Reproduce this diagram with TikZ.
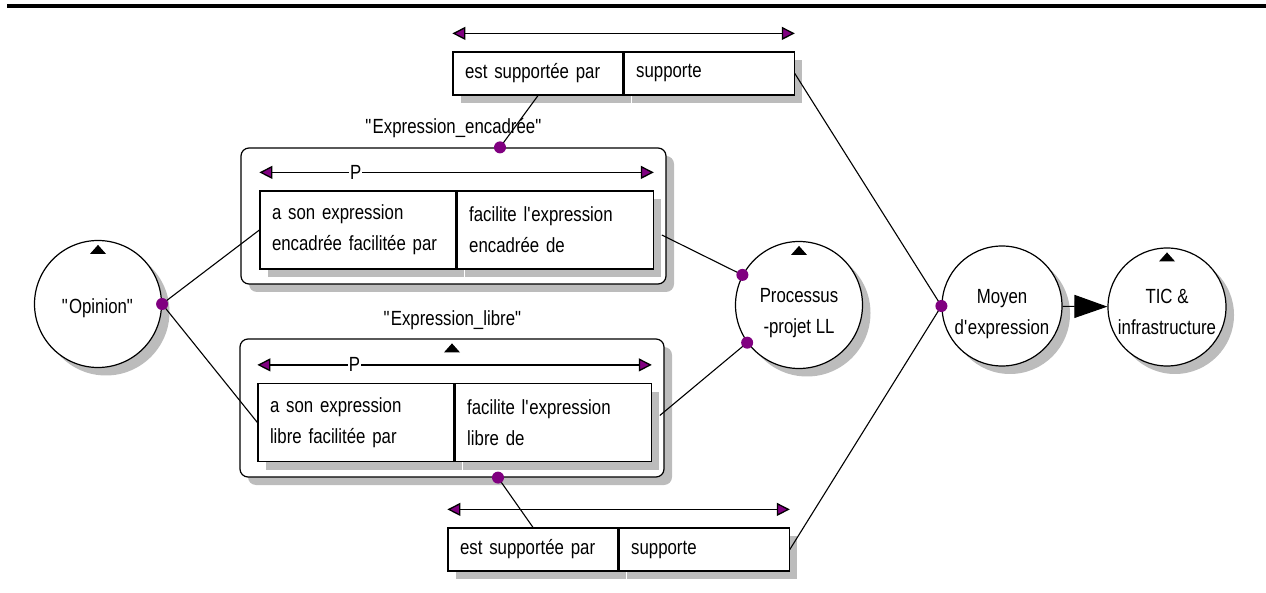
\documentclass[tikz,border=0pt]{standalone}
\usepackage{fontspec}
\setmainfont{Liberation Sans}[FakeStretch=0.82]
\usetikzlibrary{arrows.meta,shadows,calc}

\definecolor{dotpurple}{RGB}{128,0,128}
\definecolor{shadowgray}{RGB}{188,188,188}

\tikzset{
  shade box/.style={drop shadow={shadow xshift=8pt,shadow yshift=-8pt,fill=shadowgray,opacity=1}},
  concept/.style={circle,draw,line width=1.2pt,fill=white,shade box,align=center,inner sep=0pt,text height=62pt},
  frame/.style={draw,rounded corners=8pt,line width=1.2pt,fill=white,shade box,inner sep=0pt},
  relcell/.style={draw,fill=white,line width=1.2pt,shade box,minimum height=43pt,text width=146pt,inner xsep=12pt,align=left},
  pcell/.style={draw,fill=white,line width=1.2pt,shade box,minimum height=78pt,text width=172pt,inner xsep=12pt,align=left},
  relarrow/.style={line width=1.3pt,arrows={Triangle[length=13pt,width=13pt,fill=dotpurple]-Triangle[length=13pt,width=13pt,fill=dotpurple]}},
  plabel/.style={fill=white,inner sep=1pt},
  link/.style={line width=1.1pt},
  pdot/.style={circle,fill=dotpurple,inner sep=0pt,minimum size=12pt},
  uptri/.pic={\fill (-8,-14) -- (0,-5) -- (8,-14) -- cycle;}
}

\begin{document}
\begin{tikzpicture}[x=1pt,y=1pt,yscale=-1,font=\fontsize{20.5}{31}\selectfont]
\useasboundingbox (0,0) rectangle (1266,593);

%Straight Lines: top rule
\draw [line width=4pt] (7,6) -- (1266,6);

%Shape: Circle
\node [concept,minimum size=127pt,text height=24pt] (opinion) at (98,304) {\textquotedbl Opinion\textquotedbl};
\node [concept,minimum size=127pt] (processus) at (799,305) {Processus\\-projet LL};
\node [concept,minimum size=120pt] (moyen) at (1002,306) {Moyen\\d\textquotesingle expression};
\node [concept,minimum size=118pt,text height=55pt] (tic) at (1167,307) {TIC \&\\infrastructure};

%Shape: Rounded Rect
\node [frame,minimum width=425pt,minimum height=136pt] (encbox) at (453.5,216) {};
\node [frame,minimum width=424pt,minimum height=138pt] (libbox) at (452,408) {};

%Shape: Rectangle
\node [relcell] (supA) at (538,73.5) {est supportée par};
\node [relcell,anchor=west] (supB) at (supA.east) {supporte};
\node [pcell] (encL) at (358,230) {a son expression\\encadrée facilitée par};
\node [pcell,anchor=west] (encR) at (encL.east) {facilite l\textquotesingle expression\\encadrée de};
\node [pcell] (libL) at (356,422.5) {a son expression\\libre facilitée par};
\node [pcell,anchor=west] (libR) at (libL.east) {facilite l\textquotesingle expression\\libre de};
\node [relcell] (supC) at (533,549.5) {est supportée par};
\node [relcell,anchor=west] (supD) at (supC.east) {supporte};

% Text Node
\node (lblenc) at (454,128) {\textquotedbl Expression\_encadrée\textquotedbl};
\node (lbllib) at (453,320) {\textquotedbl Expression\_libre\textquotedbl};

%Straight Lines: double arrows
\draw [relarrow] ($(supA.north west)+(0,-18)$) -- ($(supB.north east)+(0,-18)$);
\draw [relarrow] ($(encL.north west)+(0,-18)$) -- ($(encR.north east)+(0,-18)$) node [plabel,pos=.244] (pEnc) {P};
\draw [relarrow] ($(libL.north west)+(0,-18)$) -- ($(libR.north east)+(0,-18)$) node [plabel,pos=.246] (pLib) {P};
\draw [relarrow] ($(supC.north west)+(0,-18)$) -- ($(supD.north east)+(0,-18)$);

%Shape: Triangle
\pic at (opinion.north) {uptri};
\pic at (processus.north) {uptri};
\pic at (tic.north) {uptri};
\pic at (libbox.north) {uptri};

%Straight Lines
\coordinate (dOp) at (opinion.east);
\coordinate (dEnc) at ($(encbox.north)+(46.5,0)$);
\coordinate (dLib) at ($(libbox.south)+(46,0)$);
\coordinate (dPu) at (processus.152);
\coordinate (dPl) at (processus.216);
\coordinate (dMo) at (moyen.west);
\draw [link] (dEnc) -- (supA.south);
\draw [link] (dLib) -- (supC.north);
\draw [link] (dOp) -- (encL.west);
\draw [link] (dOp) -- (libL.west);
\draw [link] ($(encR.east)+(8,5)$) -- (dPu);
\draw [link] ($(libR.east)+(8,-7)$) -- (dPl);
\draw [link] (supB.east) -- (dMo);
\draw [link] (supD.east) -- (dMo);
\draw [link,-{Triangle[length=33pt,width=23pt]}] (moyen) -- (tic);

%Shape: Dots
\foreach \d in {dOp,dEnc,dLib,dPu,dPl,dMo}
  \node [pdot] (\d-dot) at (\d) {};

\end{tikzpicture}
\end{document}
